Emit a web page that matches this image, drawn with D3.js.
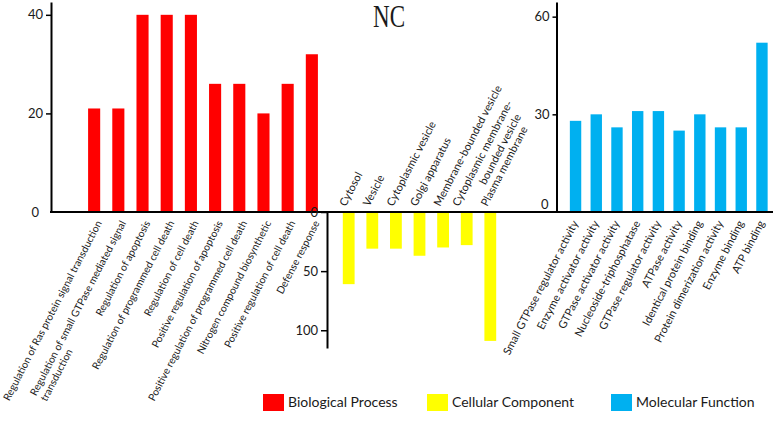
<!DOCTYPE html>
<html>
<head>
<meta charset="utf-8">
<script src="https://cdn.jsdelivr.net/npm/d3@7"></script>
<style>
  html, body { margin: 0; padding: 0; background: #fff; }
  svg { display: block; }
  text { font-family: Lato, "Open Sans", sans-serif; fill: #1a1a1a; }
</style>
</head>
<body>
<svg id="chart" width="773" height="423"></svg>
<script>
// ---------------- data ----------------
const bpCats = [
  "Regulation of Ras protein signal transduction",
  "Regulation of small GTPase mediated signal\ntransduction",
  "Regulation of apoptosis",
  "Regulation of programmed cell death",
  "Regulation of cell death",
  "Positive regulation of apoptosis",
  "Positive regulation of programmed cell death",
  "Nitrogen compound biosynthetic",
  "Positive regulation of cell death",
  "Defense response"
];
const bpVals = [21, 21, 40, 40, 40, 26, 26, 20, 26, 32];
const bpTicks = [0, 20, 40];

const ccCats = [
  "Cytosol",
  "Vesicle",
  "Cytoplasmic vesicle",
  "Golgi apparatus",
  "Membrane-bounded vesicle",
  "Cytoplasmic membrane-\nbounded vesicle",
  "Plasma membrane"
];
const ccVals = [61, 31, 31, 37, 30, 28, 109];
const ccTicks = [0, 50, 100];

const mfCats = [
  "Small GTPase regulator activity",
  "Enzyme activator activity",
  "GTPase activator activity",
  "Nucleoside-triphosphatase",
  "GTPase regulator activity",
  "ATPase activity",
  "Identical protein binding",
  "Protein dimerization activity",
  "Enzyme binding",
  "ATP binding"
];
const mfVals = [28, 30, 26, 31, 31, 25, 30, 26, 26, 52];
const mfTicks = [0, 30, 60];

const legendLabels = ["Biological Process", "Cellular Component", "Molecular Function"];
const legendColors = ["#FF0000", "#FFFF00", "#00B0F0"];
const title = "NC";

// ---------------- layout ----------------
const svg = d3.select("#chart");
svg.append("rect").attr("width", 773).attr("height", 423).attr("fill", "#fff");

const baseY = 212;
const ANG = -62.5;
const tickFont = 13;

function styleAxis(g, hideZero) {
  g.select(".domain").attr("stroke", "#000").attr("stroke-width", 2);
  g.selectAll(".tick line").attr("stroke", "#000").attr("stroke-width", 1.5);
  g.selectAll(".tick text")
    .style("font-family", "Lato, sans-serif")
    .style("font-size", tickFont + "px")
    .attr("fill", "#1a1a1a");
  if (hideZero) g.selectAll(".tick").filter(d => d === 0).select("line").remove();
}

// ---------- Biological Process (left) ----------
const bpX = d3.scaleBand().domain(bpCats).range([76, 330]).paddingInner(0.5).paddingOuter(0.5);
const bpY = d3.scaleLinear().domain([0, 42.6]).range([baseY, 2]);
const bpAxisX = 51;

svg.append("g").selectAll("rect").data(bpVals).join("rect")
  .attr("x", (d, i) => bpX(bpCats[i]))
  .attr("width", bpX.bandwidth())
  .attr("y", d => bpY(d))
  .attr("height", d => bpY(0) - bpY(d))
  .attr("fill", legendColors[0]);

const bpAx = svg.append("g").attr("transform", `translate(${bpAxisX},0)`)
  .call(d3.axisLeft(bpY).tickValues(bpTicks).tickSize(5).tickSizeOuter(0).tickPadding(3));
styleAxis(bpAx, true);
bpAx.selectAll(".tick").filter(d => d === 0).select("text").attr("x", -12);

svg.append("line").attr("x1", bpAxisX - 1).attr("x2", 330).attr("y1", bpY(0)).attr("y2", bpY(0))
  .attr("stroke", "#000").attr("stroke-width", 2);

// ---------- Cellular Component (middle, downward) ----------
const ccX = d3.scaleBand().domain(ccCats).range([331, 508]).paddingInner(0.5).paddingOuter(0.5);
const ccY = d3.scaleLinear().domain([0, 115]).range([baseY, 348]);
const ccAxisX = 327;

svg.append("g").selectAll("rect").data(ccVals).join("rect")
  .attr("x", (d, i) => ccX(ccCats[i]))
  .attr("width", ccX.bandwidth())
  .attr("y", ccY(0))
  .attr("height", d => ccY(d) - ccY(0))
  .attr("fill", legendColors[1]);

const ccAx = svg.append("g").attr("transform", `translate(${ccAxisX},0)`)
  .call(d3.axisLeft(ccY).tickValues(ccTicks).tickSize(6).tickSizeOuter(0).tickPadding(3));
styleAxis(ccAx, false);

svg.append("line").attr("x1", ccAxisX).attr("x2", 557).attr("y1", baseY).attr("y2", baseY)
  .attr("stroke", "#000").attr("stroke-width", 2);

// ---------- Molecular Function (right) ----------
const mfX = d3.scaleBand().domain(mfCats).range([559.5, 778]).paddingInner(0.45).paddingOuter(0.5);
const mfY = d3.scaleLinear().domain([0, 64.5]).range([baseY, 2]);
const mfAxisX = 556.5;

svg.append("g").selectAll("rect").data(mfVals).join("rect")
  .attr("x", (d, i) => mfX(mfCats[i]))
  .attr("width", mfX.bandwidth())
  .attr("y", d => mfY(d))
  .attr("height", d => mfY(0) - mfY(d))
  .attr("fill", legendColors[2]);

const mfAx = svg.append("g").attr("transform", `translate(${mfAxisX},0)`)
  .call(d3.axisLeft(mfY).tickValues(mfTicks).tickSize(4).tickSizeOuter(0).tickPadding(3));
styleAxis(mfAx, true);
mfAx.selectAll(".tick").filter(d => d === 0).select("text").attr("y", -8).attr("x", -8);

svg.append("line").attr("x1", mfAxisX).attr("x2", 773).attr("y1", baseY).attr("y2", baseY)
  .attr("stroke", "#000").attr("stroke-width", 2);

// ---------- category labels ----------
function labelsBelow(cats, xScale, dx, y, fs) {
  cats.forEach(c => {
    const lines = c.split("\n");
    const cx = xScale(c) + xScale.bandwidth() / 2;
    const g = svg.append("g").attr("transform", `translate(${cx + dx},${y}) rotate(${ANG})`);
    const t1 = g.append("text").attr("text-anchor", "end")
      .style("font-size", fs + "px").text(lines[0]);
    if (lines.length > 1) {
      const w = t1.node().getComputedTextLength();
      g.append("text").attr("text-anchor", "start").attr("x", -w).attr("y", fs * 1.15)
        .style("font-size", fs + "px").text(lines[1]);
    }
  });
}
function labelsAbove(cats, xScale, dx, y, fs) {
  cats.forEach(c => {
    const lines = c.split("\n");
    const cx = xScale(c) + xScale.bandwidth() / 2;
    const shift = lines.length > 1 ? -5 : 0;
    const g = svg.append("g").attr("transform", `translate(${cx + dx + shift},${y}) rotate(${ANG})`);
    const t1 = g.append("text").attr("text-anchor", "start")
      .style("font-size", fs + "px").text(lines[0]);
    if (lines.length > 1) {
      const w = t1.node().getComputedTextLength();
      g.append("text").attr("text-anchor", "end").attr("x", w - 8).attr("y", fs * 1.25)
        .style("font-size", fs + "px").text(lines[1]);
    }
  });
}
labelsBelow(bpCats, bpX, 8, 223, 10.3);
labelsAbove(ccCats, ccX, -3, 207, 11);
labelsBelow(mfCats, mfX, 3, 223, 11);

// ---------- title ----------
svg.append("text").attr("x", 373).attr("y", 27)
  .attr("textLength", 32).attr("lengthAdjust", "spacingAndGlyphs")
  .style("font-family", "'Liberation Serif', 'Times New Roman', serif")
  .style("font-size", "31px").attr("fill", "#000").text(title);

// ---------- legend ----------
const legendX = [263, 427, 611];
const lg = svg.append("g").selectAll("g").data(legendLabels).join("g")
  .attr("transform", (d, i) => `translate(${legendX[i]},394)`);
lg.append("rect").attr("width", 21).attr("height", 17).attr("fill", (d, i) => legendColors[i]);
lg.append("text").attr("x", 25).attr("y", 13).style("font-size", "14px").text(d => d);
</script>
</body>
</html>
